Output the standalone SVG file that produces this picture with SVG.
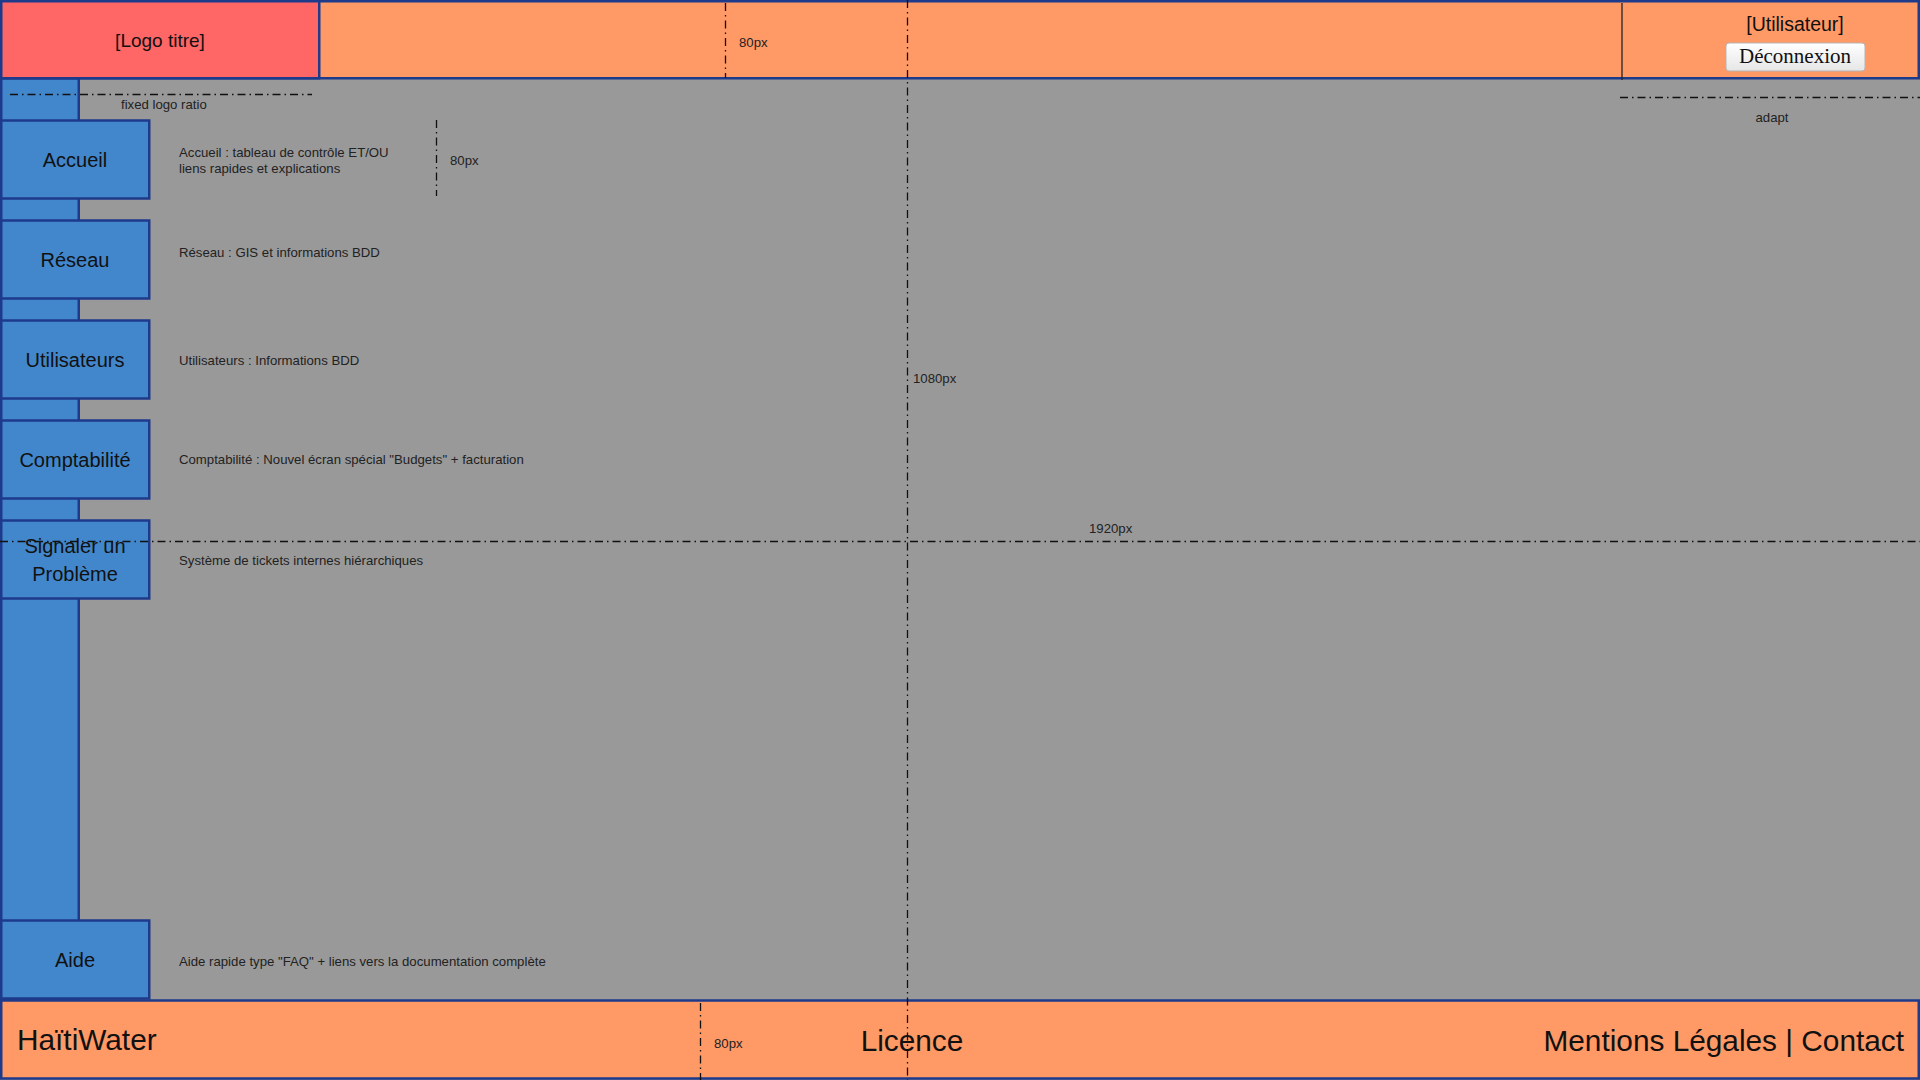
<svg xmlns="http://www.w3.org/2000/svg" width="1920" height="1080" viewBox="0 0 1920 1080">
<defs>
<linearGradient id="btnGrad" x1="0" y1="0" x2="0" y2="1">
<stop offset="0" stop-color="#ffffff"/>
<stop offset="1" stop-color="#e6e6e6"/>
</linearGradient>
<style>
.bar{fill:#ff9966;stroke:#1e3a8a;stroke-width:2.5}
.logo{fill:#ff6666;stroke:#1e3a8a;stroke-width:2.5}
.nav{fill:#4287cc;stroke:#1e3a8a;stroke-width:2.5}
.big{font-family:"Liberation Sans",Arial,sans-serif;font-size:20px;fill:#111;text-anchor:middle}
.huge{font-family:"Liberation Sans",Arial,sans-serif;font-size:29.8px;fill:#111}
.small{font-family:"Liberation Sans",Arial,sans-serif;font-size:13.2px;fill:#222}
.dd{fill:none;stroke:#111;stroke-width:1.3;stroke-dasharray:8 4 1.5 4}
</style>
</defs>
<rect x="0" y="0" width="1920" height="1080" fill="#999999"/>

<g id="sidebar">
<rect class="nav" x="1.25" y="78" width="77.5" height="922"/>
</g>

<g id="header">
<rect class="bar" x="1.25" y="1.25" width="1917.5" height="77"/>
</g>

<g id="logo">
<rect class="logo" x="1.25" y="1.25" width="318" height="77"/>
<text class="big" x="160" y="47" style="font-size:19px">[Logo titre]</text>
</g>

<g id="user">
<line x1="1622" y1="3" x2="1622" y2="80" stroke="#222" stroke-width="1.3"/>
<text class="big" x="1795" y="31" style="font-size:19.5px">[Utilisateur]</text>
</g>

<g id="logout">
<rect x="1726" y="43" width="139" height="28" rx="3" fill="url(#btnGrad)" stroke="#b5b5b5" stroke-width="1"/>
<text x="1795" y="63" font-family="'Liberation Serif','Times New Roman',serif" font-size="21" fill="#111" text-anchor="middle">Déconnexion</text>
</g>

<g id="accueil">
<rect class="nav" x="1.25" y="120.5" width="148" height="78"/>
<text class="big" x="75" y="167">Accueil</text>
</g>
<g id="reseau">
<rect class="nav" x="1.25" y="220.5" width="148" height="78"/>
<text class="big" x="75" y="267">Réseau</text>
</g>
<g id="utilisateurs">
<rect class="nav" x="1.25" y="320.5" width="148" height="78"/>
<text class="big" x="75" y="367">Utilisateurs</text>
</g>
<g id="comptabilite">
<rect class="nav" x="1.25" y="420.5" width="148" height="78"/>
<text class="big" x="75" y="467">Comptabilité</text>
</g>
<g id="signaler">
<rect class="nav" x="1.25" y="520.5" width="148" height="78"/>
<text class="big" x="75" y="553">Signaler un</text>
<text class="big" x="75" y="581">Problème</text>
</g>
<g id="aide">
<rect class="nav" x="1.25" y="920.5" width="148" height="78"/>
<text class="big" x="75" y="967">Aide</text>
</g>

<g id="footer">
<rect class="bar" x="1.25" y="1000.5" width="1917.5" height="78"/>
<text class="huge" x="17" y="1050">HaïtiWater</text>
<text class="huge" x="912" y="1051" text-anchor="middle">Licence</text>
<text class="huge" x="1904" y="1051" text-anchor="end">Mentions Légales | Contact</text>
</g>

<g id="descriptions">
<text class="small" x="179" y="157">Accueil : tableau de contrôle ET/OU</text>
<text class="small" x="179" y="173">liens rapides et explications</text>
<text class="small" x="179" y="257">Réseau : GIS et informations BDD</text>
<text class="small" x="179" y="365">Utilisateurs : Informations BDD</text>
<text class="small" x="179" y="464">Comptabilité : Nouvel écran spécial "Budgets" + facturation</text>
<text class="small" x="179" y="565">Système de tickets internes hiérarchiques</text>
<text class="small" x="179" y="966">Aide rapide type "FAQ" + liens vers la documentation complète</text>
</g>

<g id="connectors">
<line class="dd" x1="10" y1="94.5" x2="312" y2="94.5"/>
<line class="dd" x1="1620" y1="97.5" x2="1920" y2="97.5"/>
<line class="dd" x1="725.5" y1="3" x2="725.5" y2="78"/>
<line class="dd" x1="907.5" y1="0" x2="907.5" y2="1080"/>
<line class="dd" x1="0" y1="541.5" x2="1920" y2="541.5"/>
<line class="dd" x1="436.5" y1="120" x2="436.5" y2="196"/>
<line class="dd" x1="700.5" y1="1003" x2="700.5" y2="1080"/>
</g>

<g id="dimension-labels">
<text class="small" x="121" y="109">fixed logo ratio</text>
<text class="small" x="1772" y="122" text-anchor="middle">adapt</text>
<text class="small" x="739" y="47">80px</text>
<text class="small" x="450" y="165">80px</text>
<text class="small" x="913" y="383">1080px</text>
<text class="small" x="1089" y="533">1920px</text>
<text class="small" x="714" y="1048">80px</text>
</g>
</svg>
